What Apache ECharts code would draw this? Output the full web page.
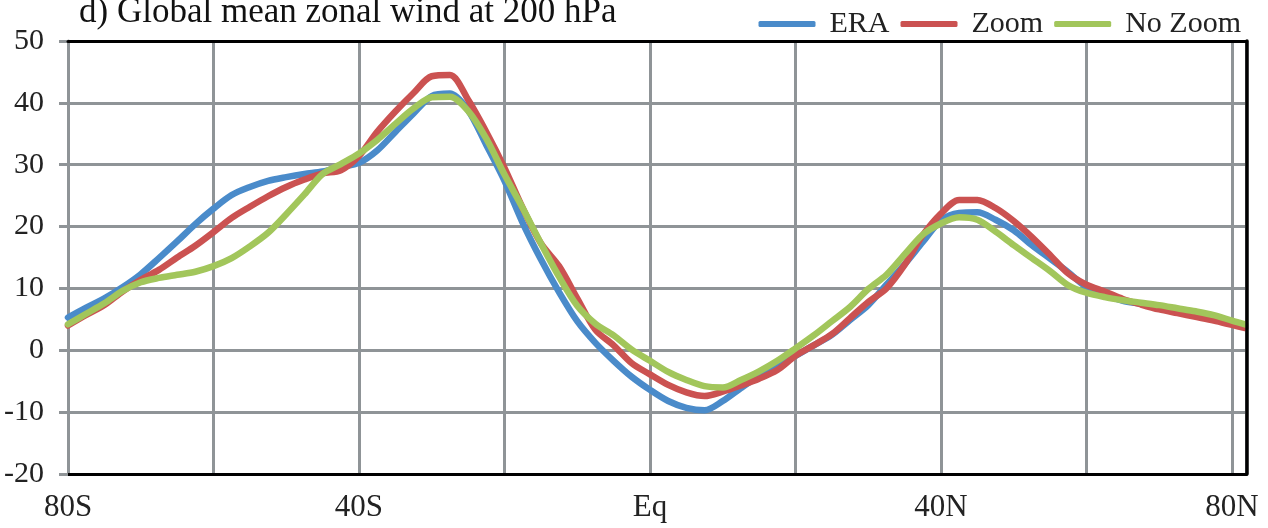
<!DOCTYPE html>
<html>
<head>
<meta charset="utf-8">
<script src="https://cdn.jsdelivr.net/npm/echarts@6/dist/echarts.min.js"></script>
<style>
html,body{margin:0;padding:0;background:#fff;}
#chart{width:1268px;height:528px;}
</style>
</head>
<body>
<div id="chart"></div>
<script>
// Latitudes (degrees, negative = south)
const lats = [-80,-77.5,-75,-72.5,-70,-67.5,-65,-62.5,-60,-57.5,-55,-52.5,-50,-47.5,-45,-42.5,-40,-37.5,-35,-32.5,-30,-27.5,-25,-22.5,-20,-17.5,-15,-12.5,-10,-7.5,-5,-2.5,0,2.5,5,7.5,10,12.5,15,17.5,20,22.5,25,27.5,30,32.5,35,37.5,40,42.5,45,47.5,50,52.5,55,57.5,60,62.5,65,67.5,70,72.5,75,77.5,80,81.8];

const era = [5.3,6.9,8.4,10.2,12.3,14.9,17.6,20.4,22.9,25.1,26.4,27.4,28.0,28.5,28.9,29.6,30.3,32.3,35.3,38.3,41.1,41.5,38.8,33.2,27.4,20.6,14.7,9.4,4.7,1.2,-1.7,-4.3,-6.4,-8.2,-9.3,-9.7,-8.2,-6.1,-4.1,-2.4,-0.9,0.8,2.5,4.9,7.3,10.6,13.9,17.5,21.0,22.2,22.3,21.1,19.4,17.0,14.8,12.6,10.2,9.0,8.0,7.5,6.9,6.4,5.8,5.2,4.4,3.9];

const zoom = [4.0,5.7,7.3,9.5,11.4,13.0,15.0,16.9,19.1,21.4,23.2,24.9,26.4,27.6,28.6,29.1,31.4,35.3,38.6,41.6,44.3,44.5,40.5,35.3,29.5,23.0,17.3,13.6,8.4,3.3,0.8,-2.1,-3.9,-5.6,-6.8,-7.4,-6.7,-5.7,-4.6,-3.2,-0.9,0.8,2.6,5.2,7.8,10.0,13.8,18.6,22.1,24.3,24.3,23.0,20.9,18.3,15.4,12.4,10.6,9.5,8.3,7.4,6.6,6.0,5.4,4.8,4.1,3.6];

const noZoom = [4.2,5.9,7.6,9.6,11.0,11.7,12.2,12.7,13.6,14.9,16.8,19.0,22.0,25.2,28.5,30.1,31.8,34.0,36.6,39.1,40.9,41.0,38.7,34.2,28.4,23.0,17.3,11.9,7.2,4.3,2.4,0.1,-1.7,-3.5,-4.8,-5.8,-6.0,-4.8,-3.4,-1.7,0.3,2.4,4.7,7.0,9.9,12.2,15.5,18.7,20.5,21.5,21.1,19.2,17.0,14.9,12.8,10.5,9.3,8.6,8.1,7.7,7.3,6.8,6.3,5.7,4.8,4.2];

const seriesNames = ['ERA','Zoom','No Zoom'];
const xTickLabels = {'-80':'80S','-40':'40S','0':'Eq','40':'40N','80':'80N'};

const FONT = 'Liberation Serif';
const GRID_GRAY = '#8f9497';

const chart = echarts.init(document.getElementById('chart'), null, {renderer:'canvas'});

function pairs(vals){ return lats.map((l,i)=>[l, vals[i]]); }

const colors = ['#4a8bca','#cb5251','#a2c65b'];
const datasets = [era, zoom, noZoom];

chart.setOption({
  animation:false,
  backgroundColor:'#fff',
  title:{
    text:'d) Global mean zonal wind at 200 hPa',
    left:74, top:-10,
    textStyle:{fontFamily:FONT,fontSize:35,fontWeight:'normal',color:'#111'}
  },
  legend:{
    right:22, top:4,
    icon:'roundRect',
    itemWidth:57, itemHeight:6, itemGap:11,
    textStyle:{fontFamily:FONT,fontSize:30,color:'#222',padding:[0,0,0,9]},
    data:seriesNames
  },
  grid:{
    left:68, right:21.5, top:41, bottom:54,
    show:false
  },
  xAxis:[{
    type:'value', min:-80, max:82, interval:20,
    axisLine:{show:true,onZero:false,lineStyle:{color:'#000',width:3}},
    axisTick:{show:false},
    axisLabel:{
      fontFamily:FONT,fontSize:31,color:'#222',margin:18,
      showMaxLabel:false,
      formatter:v=> (xTickLabels[String(v)] !== undefined ? xTickLabels[String(v)] : '')
    },
    splitLine:{show:true,lineStyle:{color:GRID_GRAY,width:3}}
  },{
    type:'value', min:-80, max:82, position:'top', z:5,
    axisLine:{show:true,onZero:false,lineStyle:{color:'#000',width:3}},
    axisTick:{show:false}, axisLabel:{show:false}, splitLine:{show:false}
  }],
  yAxis:[{
    type:'value', min:-20, max:50, interval:10,
    axisLine:{show:true,onZero:false,lineStyle:{color:GRID_GRAY,width:3}},
    axisTick:{show:true,length:9,lineStyle:{color:GRID_GRAY,width:3}},
    axisLabel:{fontFamily:FONT,fontSize:30,color:'#222',margin:24},
    splitLine:{show:true,lineStyle:{color:GRID_GRAY,width:3}}
  },{
    type:'value', min:-20, max:50, position:'right', z:5,
    axisLine:{show:true,onZero:false,lineStyle:{color:'#000',width:3.5}},
    axisTick:{show:false}, axisLabel:{show:false}, splitLine:{show:false}
  }],
  series: seriesNames.map((n,i)=>({
    name:n, type:'line', data:pairs(datasets[i]),
    xAxisIndex:0, yAxisIndex:0,
    showSymbol:false, symbol:'none', smooth:0.3,
    color:colors[i],
    lineStyle:{width:6.5,color:colors[i],cap:'round',join:'round'},
    z:2+i
  }))
});
</script>
</body>
</html>
